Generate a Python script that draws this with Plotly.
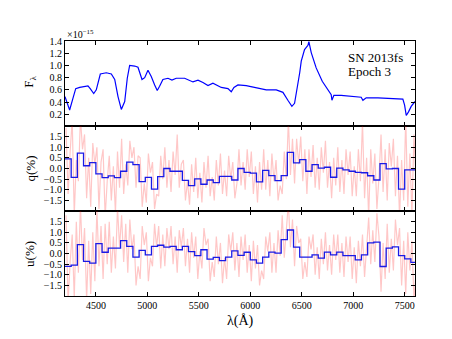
import plotly.graph_objects as go

# ---------------- data ----------------
flux_wave = [4200, 4245, 4275, 4304, 4343, 4391, 4423, 4445, 4479, 4504, 4543, 4601, 4650,
             4683, 4715, 4747, 4780, 4805, 4828, 4877, 4909, 4948, 4974, 5006, 5038, 5071,
             5096, 5119, 5151, 5200, 5239, 5281, 5362, 5443, 5492, 5540, 5589, 5637, 5670,
             5718, 5783, 5815, 5841, 5880, 5960, 6058, 6155, 6252, 6317, 6365, 6404, 6430,
             6462, 6480, 6495, 6527, 6560, 6569, 6592, 6640, 6699, 6754, 6786, 6793, 6812,
             6883, 6980, 7077, 7094, 7126, 7240, 7369, 7482, 7499, 7515, 7537, 7563, 7600]
flux = [0.49, 0.27, 0.45, 0.62, 0.64, 0.656, 0.666, 0.62, 0.54, 0.60, 0.86, 0.88, 0.86,
        0.77, 0.49, 0.28, 0.41, 0.79, 1.00, 0.99, 0.97, 0.77, 0.80, 0.92, 0.82, 0.68,
        0.59, 0.66, 0.77, 0.79, 0.76, 0.79, 0.79, 0.73, 0.76, 0.72, 0.67, 0.71, 0.68,
        0.64, 0.62, 0.57, 0.64, 0.68, 0.67, 0.63, 0.60, 0.60, 0.56, 0.43, 0.33, 0.38,
        0.68, 0.88, 1.07, 1.26, 1.33, 1.39, 1.21, 0.96, 0.74, 0.60, 0.52, 0.43, 0.51,
        0.51, 0.49, 0.48, 0.43, 0.47, 0.47, 0.46, 0.45, 0.35, 0.18, 0.24, 0.33, 0.41]

bin_start = 4200
bin_width = 60
q_bin = [0.45, -0.42, 0.72, 0.13, 0.28, -0.25, -0.43, -0.35, -0.43, -0.13, 0.30, 0.18,
         -0.62, -0.42, -0.97, -0.38, 0.0, -0.13, -0.13, -0.56, -0.80, -0.49, -0.74, -0.54,
         -0.66, -0.37, -0.37, -0.54, 0.0, -0.18, -0.22, -0.63, -0.09, -0.33, -0.57, -0.33,
         0.76, 0.26, 0.42, -0.13, 0.18, 0.02, 0.06, -0.41, 0.02, -0.06, -0.13, -0.18,
         -0.20, -0.34, -0.54, 0.23, -0.02, 0.0, -0.97, -0.06, -0.06]
u_bin = [-0.60, -0.55, 0.42, -0.37, -0.45, 0.47, 0.06, 0.26, 0.26, 0.61, 0.34, -0.17,
         0.15, -0.06, 0.34, 0.39, 0.30, 0.34, 0.18, 0.34, 0.09, -0.10, 0.18, -0.26,
         -0.18, -0.33, -0.17, 0.13, -0.09, 0.06, -0.30, -0.45, -0.17, 0.07, 0.02, 0.66,
         1.11, 0.30, -0.17, -0.17, -0.06, -0.22, 0.07, -0.06, 0.07, -0.10, -0.10, -0.30,
         -0.06, 0.50, 0.54, -0.61, 0.26, 0.31, -0.10, -0.25, -0.42]

raw_start = 4210
raw_step = 20
q_raw = [1.9, -1.2, 0.8, 2.3, -2.2, 0.4, -0.6, 2.4, 0.9, 1.6, -1.4, 0.5, -1.8, 1.2, 0.2,
         1.0, -1.9, 0.3, 0.9, -2.3, -0.6, 0.6, -1.5, 0.1, -2.1, 0.8, -0.9, 1.4, -1.2, 0.2,
         -0.8, 1.3, 0.5, 1.0, -0.9, 0.6, 0.5, -1.8, -0.7, -1.6, 0.7, -0.2, 0.3, -1.9, -1.2,
         -1.3, 0.6, -0.5, 1.0, -0.9, 0.4, -1.1, 0.8, -0.3, 1.6, -0.9, 0.2, 0.4, -1.5, -0.6,
         -1.7, 0.2, -1.1, 0.5, -1.4, -0.2, -1.6, 0.3, -0.9, 0.6, -1.3, -0.4, -1.5, 0.4, -0.8,
         0.7, -1.2, -0.1, -1.3, 0.6, -0.5, 0.3, -1.4, -0.7, 0.9, -0.8, 0.3, -1.0, 0.9, -0.4,
         0.8, -1.2, 0.1, -1.6, 0.3, -1.0, 0.9, -1.0, 0.4, -1.3, 0.7, -0.6, 0.4, -1.5, -0.8,
         -1.2, 0.8, -0.5, 2.3, -0.3, 1.4, -0.7, 1.4, 0.2, 1.5, -0.6, 0.9, -1.2, 0.9, -0.4,
         1.1, -0.9, 0.5, -1.0, 1.0, -0.2, 1.3, -0.9, 0.3, -1.4, 0.5, -0.8, 1.0, -1.1, 0.4,
         -1.2, 0.9, -0.3, 0.8, -1.3, 0.1, -1.3, 0.9, -0.6, 2.2, -1.4, 0.5, -2.3, 0.9, -0.7,
         0.7, -1.9, -0.4, 1.6, -1.1, 0.9, -1.5, 1.2, 0.1, 1.4, -1.3, 0.6, -2.3, 0.4, -1.5,
         2.4, -1.8, 0.7, -2.2, 1.6, -0.5]
u_raw = [1.8, -2.3, -0.4, 0.9, -2.1, 1.5, -0.9, 2.3, -0.3, 1.2, -2.2, 0.6, -1.9, 1.0, -1.3,
         2.1, -0.6, 1.3, -1.2, 1.4, -0.5, 1.5, -0.9, 0.8, -0.7, 2.2, 0.3, 1.8, -0.4, 1.4,
         -0.9, 1.6, 0.2, 0.9, -1.5, -0.6, -1.2, 1.3, 0.4, 1.0, -1.3, -0.2, -0.6, 1.4, 0.3,
         1.3, -0.7, 0.9, -0.6, 1.2, 0.2, 1.3, -0.5, 0.8, -0.9, 1.1, 0.3, 1.2, -0.6, 0.7,
         -0.9, 1.0, -0.2, 0.8, -1.2, 0.1, -0.7, 1.2, 0.4, 0.7, -1.3, -0.4, -1.1, 0.8, -0.5,
         0.5, -1.4, -0.2, -1.2, 0.9, 0.1, 1.0, -0.8, 0.5, -1.1, 0.8, -0.3, 0.9, -0.9, 0.4,
         -1.3, 0.6, -0.7, 0.4, -1.5, -0.8, -1.2, 0.8, 0.1, 1.0, -0.9, 0.5, -0.9, 1.1, -0.1,
         1.8, -0.2, 0.9, 2.4, 0.3, 1.6, -0.6, 1.3, 0.5, 0.7, -1.2, -0.4, -1.1, 0.8, 0.2,
         0.9, -1.0, 0.3, -1.2, 0.7, -0.5, 1.0, -0.8, 0.4, -1.0, 0.9, -0.3, 0.9, -0.9, 0.5,
         -1.1, 0.8, -0.4, 0.8, -1.2, 0.3, -1.4, 0.6, -0.6, 0.9, -1.1, 0.2, 1.7, -0.5, 1.1,
         -0.4, 1.9, 0.8, -1.8, 0.5, -1.2, 1.4, -0.9, 0.7, -0.8, 1.6, 0.4, 1.2, -1.5, 0.6,
         -1.9, 1.0, -0.8, 0.6, -2.2, -0.9]

x_ticks = [4500, 5000, 5500, 6000, 6500, 7000, 7500]
flux_ticks = [0.2, 0.4, 0.6, 0.8, 1.0, 1.2, 1.4]
pol_ticks = [-1.5, -1.0, -0.5, 0.0, 0.5, 1.0, 1.5]

# ---------------- derived ----------------
edges = [bin_start + bin_width * k for k in range(len(q_bin) + 1)]
q_step = q_bin + [q_bin[-1]]
u_step = u_bin + [u_bin[-1]]
raw_wave = [raw_start + raw_step * i for i in range(len(q_raw))]

FONT = "Liberation Serif, DejaVu Serif, serif"
fig = go.Figure()

fig.add_trace(go.Scatter(x=flux_wave, y=flux, mode="lines",
                         line=dict(color="#0000ff", width=1.2), xaxis="x", yaxis="y"))
fig.add_trace(go.Scatter(x=raw_wave, y=q_raw, mode="lines",
                         line=dict(color="rgba(255,0,0,0.22)", width=1.2), xaxis="x2", yaxis="y2"))
fig.add_trace(go.Scatter(x=edges, y=q_step, mode="lines", line_shape="hv",
                         line=dict(color="#1a1ae6", width=1.3), xaxis="x2", yaxis="y2"))
fig.add_trace(go.Scatter(x=raw_wave, y=u_raw, mode="lines",
                         line=dict(color="rgba(255,0,0,0.22)", width=1.2), xaxis="x3", yaxis="y3"))
fig.add_trace(go.Scatter(x=edges, y=u_step, mode="lines", line_shape="hv",
                         line=dict(color="#1a1ae6", width=1.3), xaxis="x3", yaxis="y3"))

xcommon = dict(range=[4200, 7600], tickvals=x_ticks, ticks="inside", ticklen=4,
               tickcolor="black", showline=True, linecolor="black", linewidth=1,
               mirror="ticks", showgrid=False, zeroline=False,
               tickfont=dict(family=FONT, size=10, color="black"))
ycommon = dict(ticks="inside", ticklen=4, tickcolor="black", showline=True,
               linecolor="black", linewidth=1, mirror="ticks", showgrid=False,
               zeroline=False, tickfont=dict(family=FONT, size=10, color="black"))

fig.update_layout(
    width=452, height=339,
    margin=dict(l=57, r=45, t=33, b=51),
    paper_bgcolor="white", plot_bgcolor="white",
    showlegend=False,
    xaxis=dict(**xcommon, anchor="y", showticklabels=False, matches="x3"),
    xaxis2=dict(**xcommon, anchor="y2", showticklabels=False, matches="x3"),
    xaxis3=dict(**xcommon, anchor="y3", showticklabels=True),
    yaxis=dict(**ycommon, domain=[0.667, 1.0], range=[0.01, 1.4], tickvals=flux_ticks,
               tickformat=".1f"),
    yaxis2=dict(**ycommon, domain=[0.333, 0.667], range=[-2.0, 2.0], tickvals=pol_ticks,
                tickformat=".1f"),
    yaxis3=dict(**ycommon, domain=[0.0, 0.333], range=[-2.0, 2.0], tickvals=pol_ticks,
                tickformat=".1f"),
    font=dict(family=FONT, color="black"),
)

ann = [
    dict(text="×10<sup>−15</sup>", x=0.0, y=1.028, xanchor="left", yanchor="middle",
         font=dict(size=10)),
    dict(text="SN 2013fs", x=0.803, y=0.937, xanchor="left", yanchor="middle",
         font=dict(size=13)),
    dict(text="Epoch 3", x=0.803, y=0.882, xanchor="left", yanchor="middle",
         font=dict(size=13)),
    dict(text="F<sub>λ</sub>", x=-0.1, y=0.84, textangle=-90, xanchor="center",
         yanchor="middle", font=dict(size=13)),
    dict(text="q(%)", x=-0.1, y=0.5, textangle=-90, xanchor="center",
         yanchor="middle", font=dict(size=13)),
    dict(text="u(%)", x=-0.1, y=0.165, textangle=-90, xanchor="center",
         yanchor="middle", font=dict(size=13)),
    dict(text="λ(Å)", x=0.5, y=-0.098, xanchor="center", yanchor="middle",
         font=dict(size=14)),
]
for a in ann:
    fig.add_annotation(xref="paper", yref="paper", showarrow=False, **a)

fig.write_html("out.html")
